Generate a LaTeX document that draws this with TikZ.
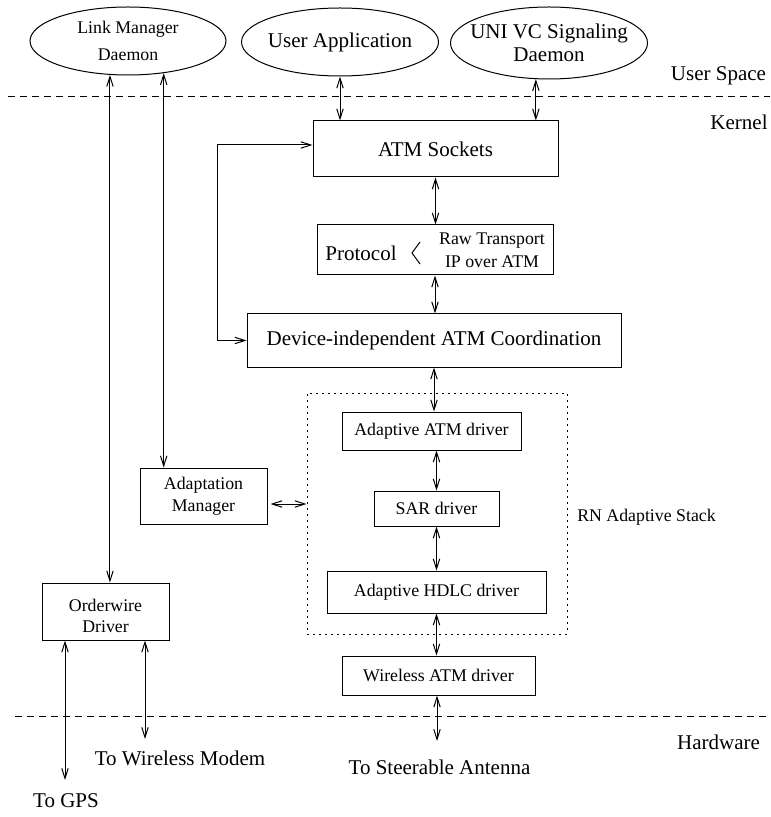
\documentclass[tikz,border=0pt]{standalone}
\usepackage{fontspec}
\setmainfont{Liberation Serif}
\usetikzlibrary{shapes.geometric,arrows.meta}

\tikzset{
  bigfont/.style={font=\fontsize{10.5}{#1}\selectfont},
  bigfont/.default=12,
  smallfont/.style={font=\fontsize{8.9}{#1}\selectfont},
  smallfont/.default=11,
  bubble/.style={draw, ellipse, inner sep=0pt},
  block/.style={draw, rectangle, inner sep=0pt, align=center},
  layer/.style={dash pattern=on 3.5pt off 2.5pt},
}

\begin{document}
\begin{tikzpicture}[x=0.5pt, y=-0.5pt, line width=0.5pt, >={Straight Barb[length=5pt,width=3.2pt]}]
            \useasboundingbox (0,0) rectangle (770,817);

            % user space
            \node[bubble, minimum width=98pt, minimum height=34pt,
                  label={[smallfont=13.5, align=center]center:Link Manager\\Daemon}] (LinkMgr) at (128,41) {};
            \node[bubble, minimum width=98.5pt, minimum height=34pt,
                  label={[bigfont]center:User Application}] (UserApp) at (340,42) {};
            \node[bubble, minimum width=98.5pt, minimum height=36pt,
                  label={[bigfont=11.5, align=center]center:UNI VC Signaling\\Daemon}] (Signaling) at (549,43) {};

            \node[bigfont] (UserSpace) at (718.5,76) {User Space};
            \node[bigfont] (Kernel) at (739,122) {Kernel};
            \node[bigfont] (Hardware) at (718.5,742) {Hardware};

            \draw[layer] (8,97) -- (770,97);
            \draw[layer] (15,716) -- (770,716);

            % kernel
            \node[block, bigfont, minimum width=122.5pt, minimum height=28pt] (Sockets) at (435.5,149) {ATM Sockets};
            \node[block, minimum width=118pt, minimum height=25pt] (Protocol) at (435,250) {};
            \node[bigfont] (ProtocolName) at (361,253) {Protocol};
            \node[smallfont=11.5, align=center] (ProtocolKinds) at (492,250) {Raw Transport\\IP over ATM};
            \draw (420,242) -- (412,253) -- (420,264);
            \node[block, bigfont, minimum width=187pt, minimum height=26.5pt] (Coord) at (434,340.5) {Device-independent ATM Coordination};

            \node[draw, dash pattern=on 1pt off 2pt, minimum width=130pt, minimum height=120.5pt, inner sep=0pt] (Stack) at (437,513.5) {};
            \node[smallfont] (StackName) at (646.5,517) {RN Adaptive Stack};
            \node[block, smallfont, minimum width=89.5pt, minimum height=19pt] (AdaptATM) at (431.5,431) {Adaptive ATM driver};
            \node[block, smallfont, minimum width=62.5pt, minimum height=17.5pt] (SAR) at (436.5,508.5) {SAR driver};
            \node[block, smallfont, minimum width=109.5pt, minimum height=21pt] (HDLC) at (436.5,592) {Adaptive HDLC driver};
            \node[block, smallfont, minimum width=96.5pt, minimum height=19.5pt] (Wireless) at (438.5,675.5) {Wireless ATM driver};

            \node[block, smallfont, minimum width=63.5pt, minimum height=28pt] (AdaptMgr) at (203.5,496) {Adaptation\\Manager};
            \node[draw, rectangle, inner sep=0pt, minimum width=63.5pt, minimum height=28.5pt,
                  label={[smallfont=10.5, align=center, yshift=-2pt]center:Orderwire\\Driver}] (Orderwire) at (105.5,611.5) {};

            % hardware
            \node[bigfont] (Modem) at (180,758) {To Wireless Modem};
            \node[bigfont] (GPS) at (66,801) {To GPS};
            \node[bigfont] (Antenna) at (439.5,767) {To Steerable Antenna};
            \coordinate (ModemEnd) at (145,739);
            \coordinate (GPSEnd) at (65,780);
            \coordinate (AntennaEnd) at (437,741);

            \draw[<->] (UserApp.south) -- (UserApp.south |- Sockets.north);
            \draw[<->] (Signaling.250) -- (Signaling.250 |- Sockets.north);
            \draw[<->] (Sockets.south) -- (Sockets.south |- Protocol.north);
            \draw[<->] (Protocol.south) -- (Protocol.south |- Coord.north);
            \draw[<->] ([yshift=2pt]Sockets.west) -- ++(-95,0) |- (Coord.west);
            \draw[<->] (Coord.south) -- (Coord.south |- AdaptATM.north);
            \draw[<->] (SAR.north |- AdaptATM.south) -- (SAR.north);
            \draw[<->] (SAR.south) -- (SAR.south |- HDLC.north);
            \draw[<->] (HDLC.south) -- (HDLC.south |- Wireless.north);
            \draw[<->] (Wireless.south -| AntennaEnd) -- (AntennaEnd);
            \draw[<->] (LinkMgr.242) -- (LinkMgr.242 |- Orderwire.north);
            \draw[<->] (LinkMgr.318) -- (LinkMgr.318 |- AdaptMgr.north);
            \draw[<->] ([yshift=-4pt,xshift=1.5pt]AdaptMgr.east) -- ([yshift=-4pt]AdaptMgr.east -| Stack.west);
            \draw[<->] (Orderwire.south -| GPSEnd) -- (GPSEnd);
            \draw[<->] (Orderwire.south -| ModemEnd) -- (ModemEnd);
        \end{tikzpicture}
\end{document}
